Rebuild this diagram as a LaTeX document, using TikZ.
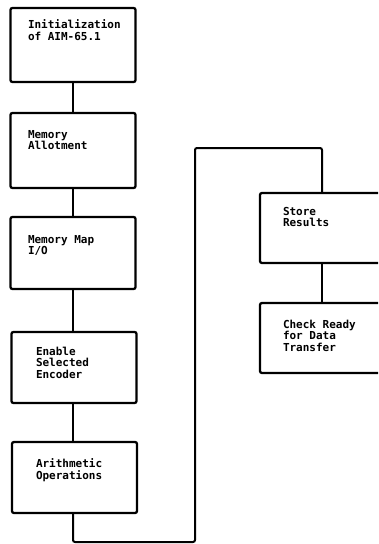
\documentclass[tikz,border=0pt]{standalone}
\usepackage{fontspec}
\newfontfamily\boxfont{DejaVu Sans Mono}[BoldFont={DejaVu Sans Mono Bold}]
\usetikzlibrary{calc}
\begin{document}
\begin{tikzpicture}[x=1pt,y=-1pt,
  stepbox/.style={draw, line width=2.3pt, rounded corners=2pt, minimum width=125pt, inner sep=0pt, outer sep=0pt},
  lbl/.style={anchor=north west, inner sep=0pt, outer sep=0pt, align=left,
    font=\boxfont\bfseries\fontsize{11}{11.6}\selectfont},
  link/.style={line width=2pt}]
\useasboundingbox (0,0) rectangle (378,544);
\begin{scope}
\clip (0,0) rectangle (378,544);
\node[stepbox, minimum height=74pt] (b1) at (73,45) {};
\node[stepbox, minimum height=75pt] (b2) at (73,150.5) {};
\node[stepbox, minimum height=72pt] (b3) at (73,253) {};
\node[stepbox, minimum height=71pt] (b4) at (74,367.5) {};
\node[stepbox, minimum height=71pt] (b5) at (74.5,477.5) {};
\node[stepbox, minimum height=70pt] (b6) at (322.5,228) {};
\node[stepbox, minimum height=70pt] (b7) at (322.5,338) {};

\node[lbl] (t1) at (28,20) {Initialization\\of AIM-65.1};
\node[lbl] (t2) at (28,130) {Memory\\Allotment};
\node[lbl] (t3) at (28,235) {Memory Map\\I/O};
\node[lbl] (t4) at (36,347) {Enable\\Selected\\Encoder};
\node[lbl] (t5) at (36,459) {Arithmetic\\Operations};
\node[lbl] (t6) at (283,207) {Store\\Results};
\node[lbl] (t7) at (283,320) {Check Ready\\for Data\\Transfer};

\coordinate (c1) at (73,542);
\coordinate (c2) at (195,148);
\coordinate (c3) at (322,148);

\draw[link] (b1.south) -- (b1.south |- b2.north);
\draw[link] (b2.south) -- (b2.south |- b3.north);
\draw[link] (b3.south) -- (b3.south |- b4.north);
\draw[link] (b4.south -| c1) -- (c1 |- b5.north);
\draw[link, rounded corners=2pt] (b5.south -| c1) -- (c1) -| (c2) -- (c3) -- (c3 |- b6.north);
\draw[link] (b6.south -| c3) -- (c3 |- b7.north);
\end{scope}
\end{tikzpicture}
\end{document}
